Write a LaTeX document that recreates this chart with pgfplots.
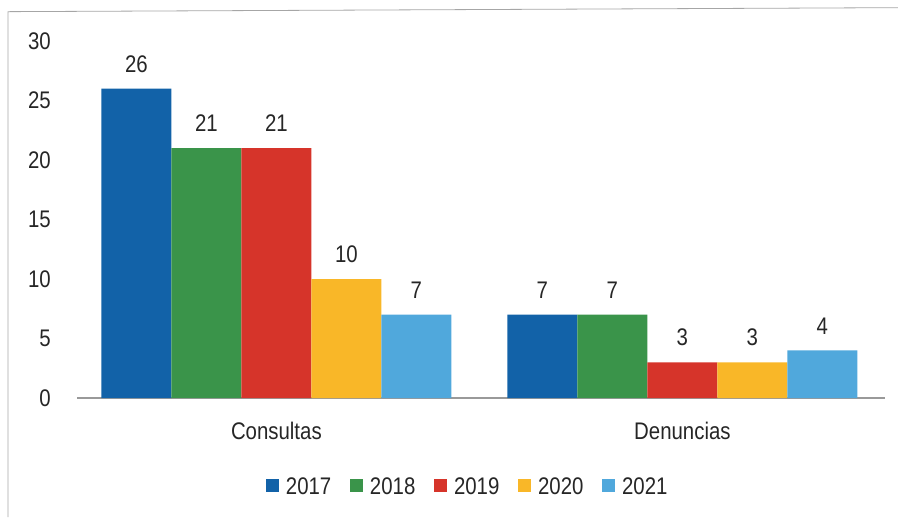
\documentclass[border=0pt]{standalone}
\usepackage{fontspec}
\setmainfont{Liberation Sans}[FakeStretch=0.85]
\usepackage{pgfplots}
\pgfplotsset{compat=1.18}

\definecolor{c2017}{RGB}{18,98,168}
\definecolor{c2018}{RGB}{58,148,74}
\definecolor{c2019}{RGB}{214,52,42}
\definecolor{c2020}{RGB}{249,183,40}
\definecolor{c2021}{RGB}{80,168,220}

\begin{document}
\begin{tikzpicture}
\useasboundingbox (0,0) rectangle (673.5pt,387.75pt);
% frame of the scanned figure
\draw[gray!70,line width=0.6pt] (6pt,0pt) -- (6pt,379pt) -- (673.5pt,382pt);
\begin{axis}[
    at={(57.75pt,89.25pt)}, anchor=south west,
    scale only axis,
    width=606pt, height=267.75pt,
    ybar=0pt, bar width=52.5pt,
    xmin=-0.491, xmax=1.499,
    ymin=0, ymax=30,
    ytick={0,5,...,30},
    xtick={0,1}, xticklabels={Consultas,Denuncias},
    major tick length=0pt,
    axis x line*=bottom, axis y line*=left,
    x axis line style={gray!80,line width=0.8pt,-},
    y axis line style={draw=none},
    every tick label/.append style={font=\fontsize{18}{21}\selectfont,text=black!85},
    /pgf/number format/assume math mode=true,
    yticklabel style={anchor=east,inner sep=0pt,xshift=-19.5pt},
    xticklabel style={anchor=north,inner sep=0pt,yshift=-18pt},
    nodes near coords,
    every node near coord/.append style={font=\fontsize{18}{21}\selectfont,text=black!85,anchor=south,inner sep=0pt,yshift=12pt},
    legend columns=5,
    legend style={at={(0.484,-0.249)},anchor=center,draw=none,
        font=\fontsize{18}{21}\selectfont,text=black!85,
        /tikz/every even column/.append style={column sep=12pt},
        /tikz/every odd column/.append style={column sep=3pt}},
    legend image code/.code={\fill[#1] (0pt,-4pt) rectangle (10pt,6pt);},
]
\addplot[fill=c2017,draw=none] coordinates {(0,26) (1,7)};
\addplot[fill=c2018,draw=none] coordinates {(0,21) (1,7)};
\addplot[fill=c2019,draw=none] coordinates {(0,21) (1,3)};
\addplot[fill=c2020,draw=none] coordinates {(0,10) (1,3)};
\addplot[fill=c2021,draw=none] coordinates {(0,7) (1,4)};
\legend{2017,2018,2019,2020,2021}
\end{axis}
\end{tikzpicture}
\end{document}
